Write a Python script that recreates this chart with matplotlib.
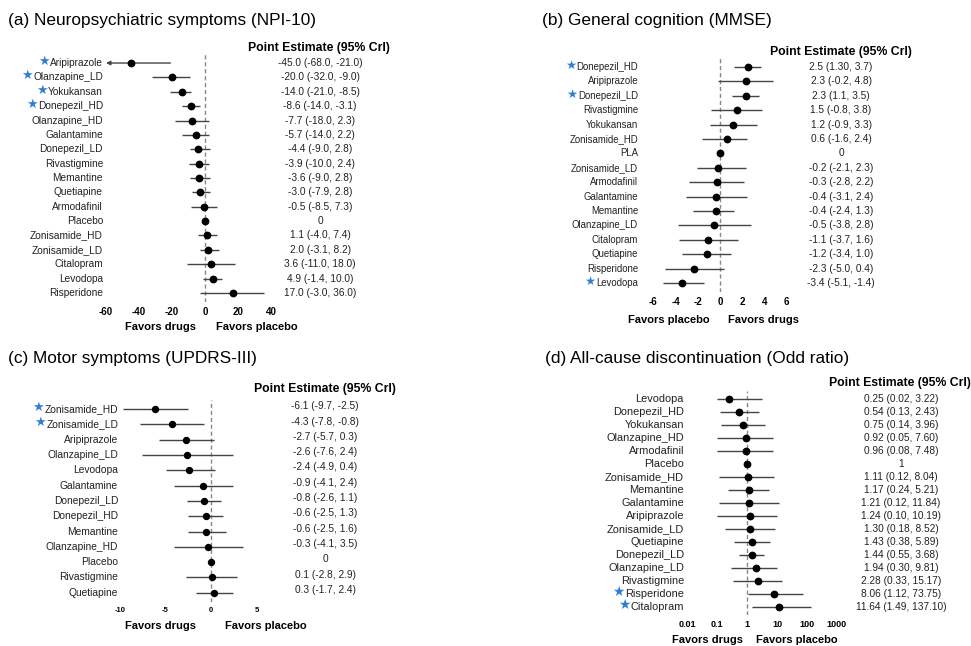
import numpy as np
import matplotlib
matplotlib.use('Agg')
import matplotlib.pyplot as plt
import matplotlib.transforms as mtransforms

plt.rcParams['font.family'] = ['Liberation Sans', 'DejaVu Sans']

W, H = 971, 646
STAR_BLUE = '#2f7fd0'
LINE_C = '#444444'

# (a) NPI-10
a_names = ['Aripiprazole', 'Olanzapine_LD', 'Yokukansan', 'Donepezil_HD', 'Olanzapine_HD',
           'Galantamine', 'Donepezil_LD', 'Rivastigmine', 'Memantine', 'Quetiapine',
           'Armodafinil', 'Placebo', 'Zonisamide_HD', 'Zonisamide_LD', 'Citalopram',
           'Levodopa', 'Risperidone']
a_est = [-45.0, -20.0, -14.0, -8.6, -7.7, -5.7, -4.4, -3.9, -3.6, -3.0, -0.5, 0, 1.1, 2.0, 3.6, 4.9, 17.0]
a_lo = [-68.0, -32.0, -21.0, -14.0, -18.0, -14.0, -9.0, -10.0, -9.0, -7.9, -8.5, 0, -4.0, -3.1, -11.0, -1.4, -3.0]
a_hi = [-21.0, -9.0, -8.5, -3.1, 2.3, 2.2, 2.8, 2.4, 2.8, 2.8, 7.3, 0, 7.4, 8.2, 18.0, 10.0, 36.0]
a_text = ['-45.0 (-68.0, -21.0)', '-20.0 (-32.0, -9.0)', '-14.0 (-21.0, -8.5)', '-8.6 (-14.0, -3.1)',
          '-7.7 (-18.0, 2.3)', '-5.7 (-14.0, 2.2)', '-4.4 (-9.0, 2.8)', '-3.9 (-10.0, 2.4)',
          '-3.6 (-9.0, 2.8)', '-3.0 (-7.9, 2.8)', '-0.5 (-8.5, 7.3)', '0', '1.1 (-4.0, 7.4)',
          '2.0 (-3.1, 8.2)', '3.6 (-11.0, 18.0)', '4.9 (-1.4, 10.0)', '17.0 (-3.0, 36.0)']
a_star = ['Aripiprazole', 'Olanzapine_LD', 'Yokukansan', 'Donepezil_HD']
a_ticks = [-60, -40, -20, 0, 20, 40]

# (b) MMSE
b_names = ['Donepezil_HD', 'Aripiprazole', 'Donepezil_LD', 'Rivastigmine', 'Yokukansan',
           'Zonisamide_HD', 'PLA', 'Zonisamide_LD', 'Armodafinil', 'Galantamine', 'Memantine',
           'Olanzapine_LD', 'Citalopram', 'Quetiapine', 'Risperidone', 'Levodopa']
b_est = [2.5, 2.3, 2.3, 1.5, 1.2, 0.6, 0, -0.2, -0.3, -0.4, -0.4, -0.5, -1.1, -1.2, -2.3, -3.4]
b_lo = [1.30, -0.2, 1.1, -0.8, -0.9, -1.6, 0, -2.1, -2.8, -3.1, -2.4, -3.8, -3.7, -3.4, -5.0, -5.1]
b_hi = [3.7, 4.8, 3.5, 3.8, 3.3, 2.4, 0, 2.3, 2.2, 2.4, 1.3, 2.8, 1.6, 1.0, 0.4, -1.4]
b_text = ['2.5 (1.30, 3.7)', '2.3 (-0.2, 4.8)', '2.3 (1.1, 3.5)', '1.5 (-0.8, 3.8)', '1.2 (-0.9, 3.3)',
          '0.6 (-1.6, 2.4)', '0', '-0.2 (-2.1, 2.3)', '-0.3 (-2.8, 2.2)', '-0.4 (-3.1, 2.4)',
          '-0.4 (-2.4, 1.3)', '-0.5 (-3.8, 2.8)', '-1.1 (-3.7, 1.6)', '-1.2 (-3.4, 1.0)',
          '-2.3 (-5.0, 0.4)', '-3.4 (-5.1, -1.4)']
b_star = ['Donepezil_HD', 'Donepezil_LD', 'Levodopa']
b_ticks = [-6, -4, -2, 0, 2, 4, 6]

# (c) UPDRS-III
c_names = ['Zonisamide_HD', 'Zonisamide_LD', 'Aripiprazole', 'Olanzapine_LD', 'Levodopa',
           'Galantamine', 'Donepezil_LD', 'Donepezil_HD', 'Memantine', 'Olanzapine_HD',
           'Placebo', 'Rivastigmine', 'Quetiapine']
c_est = [-6.1, -4.3, -2.7, -2.6, -2.4, -0.9, -0.8, -0.6, -0.6, -0.3, 0, 0.1, 0.3]
c_lo = [-9.7, -7.8, -5.7, -7.6, -4.9, -4.1, -2.6, -2.5, -2.5, -4.1, 0, -2.8, -1.7]
c_hi = [-2.5, -0.8, 0.3, 2.4, 0.4, 2.4, 1.1, 1.3, 1.6, 3.5, 0, 2.9, 2.4]
c_text = ['-6.1 (-9.7, -2.5)', '-4.3 (-7.8, -0.8)', '-2.7 (-5.7, 0.3)', '-2.6 (-7.6, 2.4)',
          '-2.4 (-4.9, 0.4)', '-0.9 (-4.1, 2.4)', '-0.8 (-2.6, 1.1)', '-0.6 (-2.5, 1.3)',
          '-0.6 (-2.5, 1.6)', '-0.3 (-4.1, 3.5)', '0', '0.1 (-2.8, 2.9)', '0.3 (-1.7, 2.4)']
c_star = ['Zonisamide_HD', 'Zonisamide_LD']
c_ticks = [-10, -5, 0, 5]

# (d) discontinuation, odds ratio
d_names = ['Levodopa', 'Donepezil_HD', 'Yokukansan', 'Olanzapine_HD', 'Armodafinil', 'Placebo',
           'Zonisamide_HD', 'Memantine', 'Galantamine', 'Aripiprazole', 'Zonisamide_LD',
           'Quetiapine', 'Donepezil_LD', 'Olanzapine_LD', 'Rivastigmine', 'Risperidone', 'Citalopram']
d_est = [0.25, 0.54, 0.75, 0.92, 0.96, 1, 1.11, 1.17, 1.21, 1.24, 1.30, 1.43, 1.44, 1.94, 2.28, 8.06, 11.64]
d_lo = [0.02, 0.13, 0.14, 0.05, 0.08, 1, 0.12, 0.24, 0.12, 0.10, 0.18, 0.38, 0.55, 0.30, 0.33, 1.12, 1.49]
d_hi = [3.22, 2.43, 3.96, 7.60, 7.48, 1, 8.04, 5.21, 11.84, 10.19, 8.52, 5.89, 3.68, 9.81, 15.17, 73.75, 137.10]
d_text = ['0.25 (0.02, 3.22)', '0.54 (0.13, 2.43)', '0.75 (0.14, 3.96)', '0.92 (0.05, 7.60)',
          '0.96 (0.08, 7.48)', '1', '1.11 (0.12, 8.04)', '1.17 (0.24, 5.21)', '1.21 (0.12, 11.84)',
          '1.24 (0.10, 10.19)', '1.30 (0.18, 8.52)', '1.43 (0.38, 5.89)', '1.44 (0.55, 3.68)',
          '1.94 (0.30, 9.81)', '2.28 (0.33, 15.17)', '8.06 (1.12, 73.75)', '11.64 (1.49, 137.10)']
d_star = ['Risperidone', 'Citalopram']
d_ticks = [0.01, 0.1, 1, 10, 100, 1000]
d_ticklabels = ['0.01', '0.1', '1', '10', '100', '1000']

fig = plt.figure(figsize=(W / 100, H / 100), dpi=100)


def fx(px):
    return px / W


def fy(py):
    return 1 - py / H


def forest(box, xlim, names, est, lo, hi, texts, stars, ticks, ticklabels, cfg):
    x0, x1, yt, yb = box
    ax = fig.add_axes([fx(x0), fy(yb), fx(x1 - x0), (yb - yt) / H])
    n = len(names)
    y = np.arange(n)
    if cfg.get('log'):
        ax.set_xscale('log')
    ax.set_xlim(*xlim)
    ax.set_ylim(n - 0.4, -0.6)
    for s in ax.spines.values():
        s.set_visible(False)
    ax.set_yticks([])
    ax.set_xticks(ticks)
    ax.set_xticklabels(ticklabels if ticklabels else [str(t) for t in ticks])
    ax.minorticks_off()
    ax.tick_params(axis='x', length=0, pad=cfg['tpad'], labelsize=cfg['tsize'])
    for lab in ax.get_xticklabels():
        lab.set_fontweight('bold')
    ax.axvline(cfg['ref'], color='#888888', lw=1, ls=(0, (3, 2)), zorder=1)

    clip = cfg.get('clip')
    for i in range(n):
        l, h = lo[i], hi[i]
        if clip is not None and l < clip:
            if cfg.get('arrow'):
                ax.annotate('', xy=(clip, i), xytext=(h, i),
                            arrowprops=dict(arrowstyle='-|>', color=LINE_C, lw=1,
                                            mutation_scale=6, shrinkA=0, shrinkB=0))
                continue
            l = clip
        ax.plot([l, h], [i, i], color=LINE_C, lw=1, zorder=2, solid_capstyle='butt')
    ax.plot(est, y, 'o', color='black', ms=cfg['ms'], zorder=3)

    lab_tr = mtransforms.blended_transform_factory(fig.transFigure, ax.transData)
    for i, name in enumerate(names):
        t = ax.text(fx(cfg['lab_x']), i, name, transform=lab_tr, ha='right', va='center',
                    fontsize=cfg['lsize'], color='#222222')
        if name in stars:
            ax.annotate('\u2605', xy=(0, 0.5), xycoords=t, xytext=(-0.3, 1.2),
                        textcoords='offset points', ha='right', va='center',
                        color=STAR_BLUE, fontsize=cfg['lsize'] + 2, family=['DejaVu Sans'])
        ax.annotate(texts[i], xy=(fx(cfg['est_x']), i), xycoords=lab_tr,
                    xytext=(0, cfg.get('est_dy', 0)), textcoords='offset points',
                    ha='center', va='center', fontsize=cfg['esize'], color='#222222')

    fig.text(fx(cfg['head'][0]), fy(cfg['head'][1]), 'Point Estimate (95% CrI)',
             ha='center', va='center', fontsize=8.8, fontweight='bold')
    fig.text(fx(cfg['title'][0]), fy(cfg['title'][1]), cfg['title_s'],
             ha='left', va='center', fontsize=12.4)
    for (px, py), s in zip(cfg['fav'], cfg['fav_s']):
        fig.text(fx(px), fy(py), s, ha='center', va='center', fontsize=8, fontweight='bold')
    return ax


forest((102.7, 274.3, 54.4, 301.6), (-62, 42), a_names, a_est, a_lo, a_hi, a_text, a_star,
       a_ticks, None,
       dict(ref=0, clip=-60, arrow=True, ms=4.6, tpad=4, tsize=7, lsize=7.3, esize=7.3,
            lab_x=103, est_x=320, head=(319, 48), title=(8, 20),
            title_s='(a) Neuropsychiatric symptoms (NPI-10)',
            fav=[(160, 327), (257, 327)], fav_s=['Favors drugs', 'Favors placebo']))

forest((642.3, 797.7, 58.4, 291.6), (-7, 7), b_names, b_est, b_lo, b_hi, b_text, b_star,
       b_ticks, None,
       dict(ref=0, ms=4.6, tpad=4, tsize=7, lsize=6.9, esize=7.3,
            lab_x=638, est_x=841, head=(841, 52), title=(542, 20),
            title_s='(b) General cognition (MMSE)',
            fav=[(669, 320), (764, 320)], fav_s=['Favors placebo', 'Favors drugs']))

forest((110.9, 265.6, 399.8, 602), (-11, 6), c_names, c_est, c_lo, c_hi, c_text, c_star,
       c_ticks, None,
       dict(ref=0, ms=4.3, tpad=3.5, tsize=5.5, lsize=7.4, esize=7.3, est_dy=2,
            lab_x=118, est_x=325, head=(325, 389), title=(8, 359),
            title_s='(c) Motor symptoms (UPDRS-III)',
            fav=[(160, 626), (266, 626)], fav_s=['Favors drugs', 'Favors placebo']))

forest((678, 846, 391.2, 614.8), (0.005, 2000), d_names, d_est, d_lo, d_hi, d_text, d_star,
       d_ticks, d_ticklabels,
       dict(ref=1, log=True, clip=0.1, ms=4.6, tpad=4, tsize=6.5, lsize=7.9, esize=7.3,
            lab_x=684, est_x=901, head=(900, 383), title=(545, 359),
            title_s='(d) All-cause discontinuation (Odd ratio)',
            fav=[(708, 640), (797, 640)], fav_s=['Favors drugs', 'Favors placebo']))

fig.savefig('out.png', dpi=100)
